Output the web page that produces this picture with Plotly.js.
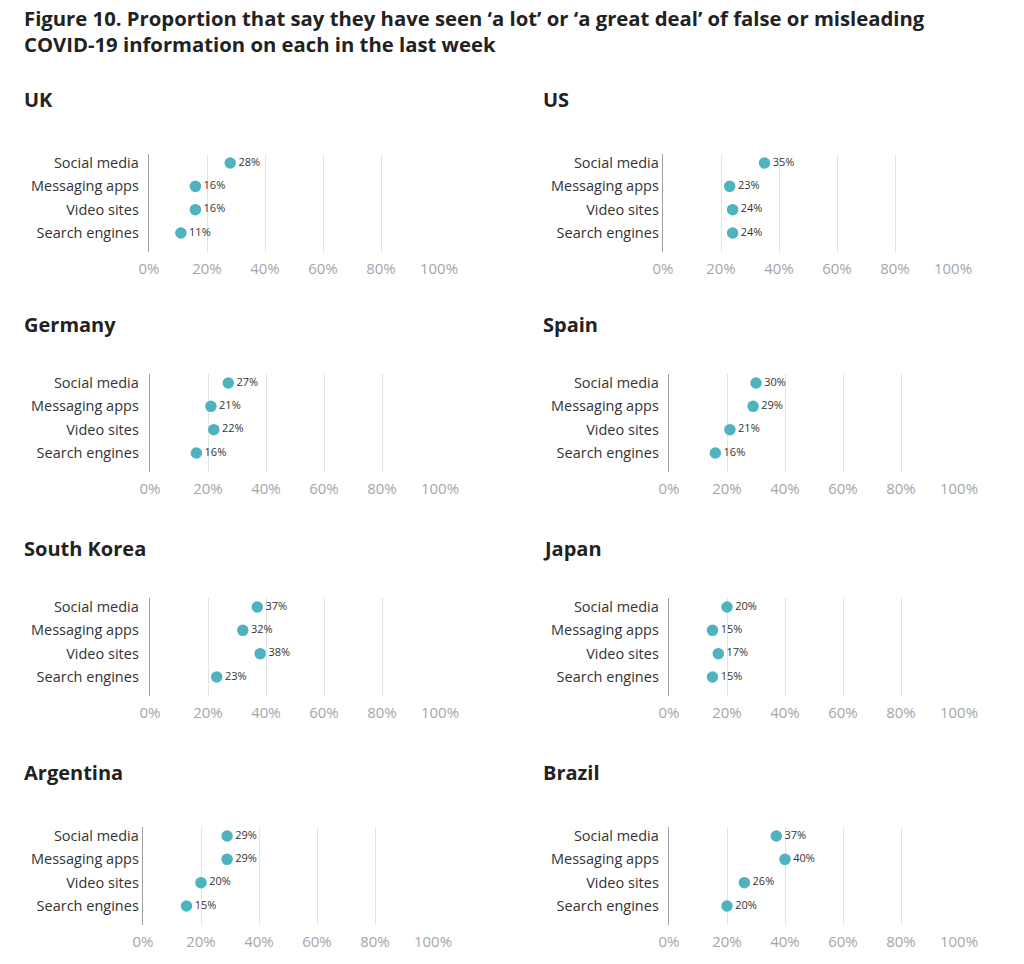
<!DOCTYPE html>
<html>
<head>
<meta charset="utf-8">
<script src="https://cdn.plot.ly/plotly-3.0.1.min.js"></script>
<style>
  html, body { margin: 0; padding: 0; background: #fff; }
  #chart { width: 1024px; height: 964px; }
</style>
</head>
<body>
<div id="chart"></div>
<script>
// ---- Data ----
const categories = ['Social media', 'Messaging apps', 'Video sites', 'Search engines'];
const countries = ['UK', 'US', 'Germany', 'Spain', 'South Korea', 'Japan', 'Argentina', 'Brazil'];
const ukValues        = [28, 16, 16, 11];
const usValues        = [35, 23, 24, 24];
const germanyValues   = [27, 21, 22, 16];
const spainValues     = [30, 29, 21, 16];
const southKoreaValues= [37, 32, 38, 23];
const japanValues     = [20, 15, 17, 15];
const argentinaValues = [29, 29, 20, 15];
const brazilValues    = [37, 40, 26, 20];
const xTickValues = [0, 20, 40, 60, 80, 100];
const xTickLabels = ['0%', '20%', '40%', '60%', '80%', '100%'];
const titleLines = [
  'Figure 10. Proportion that say they have seen \u2018a lot\u2019 or \u2018a great deal\u2019 of false or misleading',
  'COVID-19 information on each in the last week'
];

const seriesList = [ukValues, usValues, germanyValues, spainValues,
                    southKoreaValues, japanValues, argentinaValues, brazilValues];

// ---- Layout geometry (pixels) ----
const W = 1024, H = 964;
const px = x => x / W;
const py = y => 1 - y / H;
// [x of 0%, x of 100%] for each panel
const xPix = [[149, 439], [663, 953], [150, 440], [669, 959],
              [150, 440], [669, 959], [143, 433], [669, 959]];
// right edge of category labels per column
const labelRight = [138, 658];
// y pixel of first row (Social media) for each panel row
const firstRowY = [163, 383, 607, 836];
const titleY = [100, 324, 548, 772];
const titleX = [22, 541];
const rowStep = 23.33, topGap = 9, bottomGap = 19;

const FONT = 'Open Sans, Noto Sans, sans-serif';
const dotColor = '#4fb3bf';

const data = [];
const layout = {
  width: W, height: H,
  margin: {l: 0, r: 0, t: 0, b: 0},
  paper_bgcolor: '#fff', plot_bgcolor: '#fff',
  showlegend: false,
  font: {family: FONT, color: '#333'},
  annotations: [{
    text: titleLines.join('<br>'),
    xref: 'paper', yref: 'paper',
    x: px(22), xanchor: 'left',
    y: py(2), yanchor: 'top',
    align: 'left',
    showarrow: false,
    font: {family: FONT, size: 20.3, color: '#222', weight: 'bold'}
  }],
  hovermode: false
};

countries.forEach((c, i) => {
  const n = i + 1;
  const col = i % 2, row = Math.floor(i / 2);
  const vals = seriesList[i];
  data.push({
    type: 'scatter',
    mode: 'markers+text',
    x: vals,
    y: categories,
    text: vals.map(v => v + '%'),
    textposition: 'middle right',
    textfont: {family: FONT, size: 11, color: '#333'},
    marker: {size: 11.5, color: dotColor},
    cliponaxis: false,
    xaxis: 'x' + n,
    yaxis: 'y' + n,
    hoverinfo: 'skip'
  });
  const topPix = firstRowY[row] - topGap;
  const botPix = firstRowY[row] + 3 * rowStep + bottomGap;
  layout['xaxis' + n] = {
    domain: [px(xPix[i][0]), px(xPix[i][1])],
    range: [0, 100],
    anchor: 'y' + n,
    tickvals: xTickValues,
    ticktext: xTickLabels,
    showgrid: true,
    gridcolor: '#e3e3e3',
    gridwidth: 1,
    zeroline: false,
    showline: false,
    ticks: '',
    ticklabelstandoff: 6,
    tickfont: {family: FONT, size: 15, color: '#a6a6a6'},
    fixedrange: true
  };
  layout['yaxis' + n] = {
    domain: [py(botPix), py(topPix)],
    type: 'category',
    categoryorder: 'array',
    categoryarray: categories,
    range: [3 + bottomGap / rowStep, -topGap / rowStep],
    anchor: 'x' + n,
    showgrid: false,
    zeroline: false,
    showline: true,
    linecolor: '#a0a0a0',
    linewidth: 1.3,
    ticks: '',
    ticklabelstandoff: Math.max(0, xPix[i][0] - labelRight[col] - 5),
    tickfont: {family: FONT, size: 14.5, color: '#333'},
    fixedrange: true
  };
  layout.annotations.push({
    text: c,
    xref: 'paper', yref: 'paper',
    x: px(titleX[col]), y: py(titleY[row]),
    xanchor: 'left', yanchor: 'middle',
    showarrow: false,
    font: {family: FONT, size: 20, color: '#222', weight: 'bold'}
  });
});

Plotly.newPlot('chart', data, layout, {staticPlot: true, displayModeBar: false});
</script>
</body>
</html>
